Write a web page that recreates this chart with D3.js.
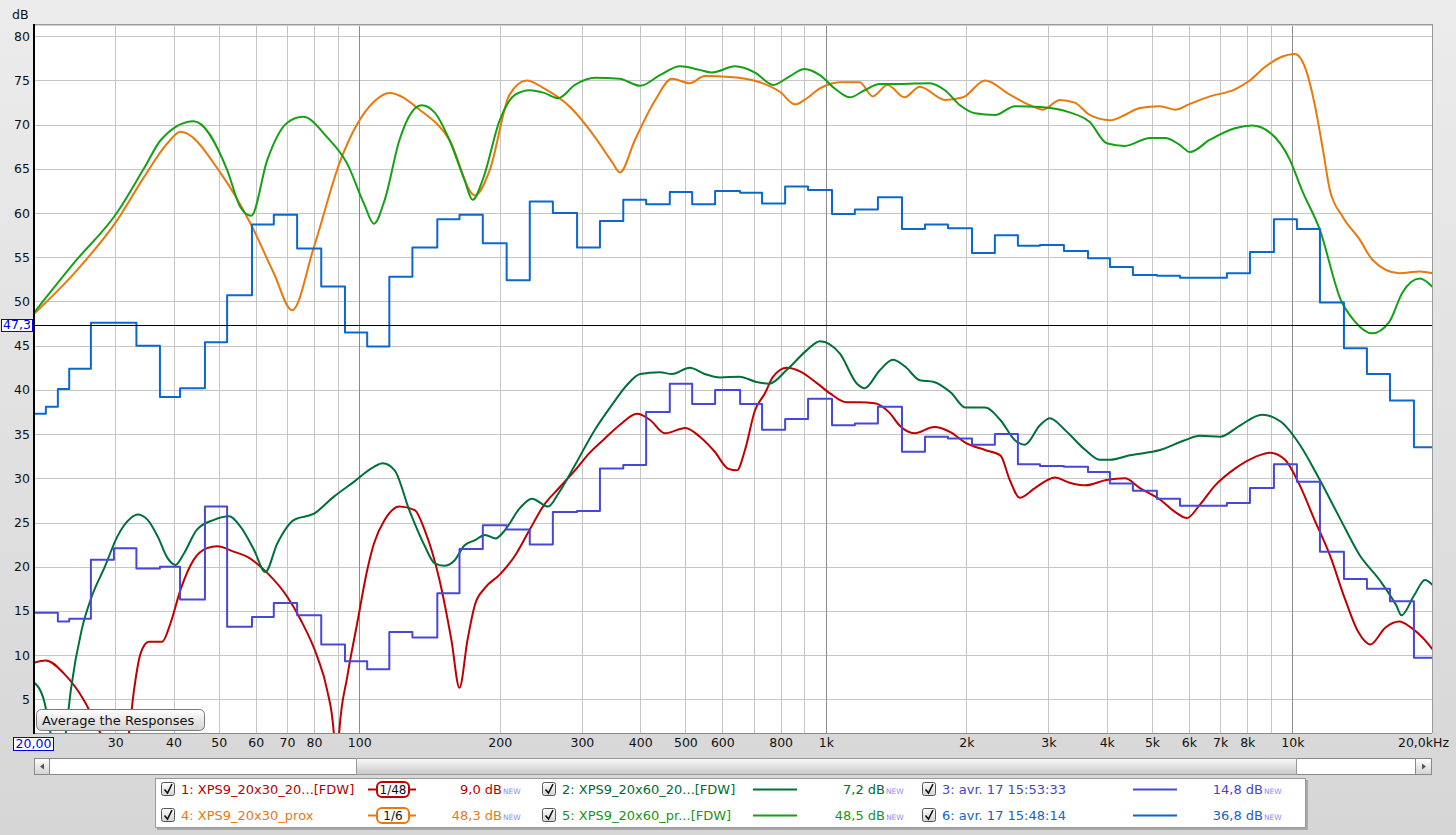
<!DOCTYPE html>
<html><head><meta charset="utf-8">
<script src="https://cdn.jsdelivr.net/npm/d3@7"></script>
<style>
html,body{margin:0;padding:0;background:#dadada;overflow:hidden;}
svg{display:block;font-family:"DejaVu Sans",sans-serif;}
</style></head><body>
<svg id="c" width="1456" height="835"></svg>
<script>
// ---------- DATA ----------
const yTicks = [5,10,15,20,25,30,35,40,45,50,55,60,65,70,75,80];
const xTickValues = [30,40,50,60,70,80,100,200,300,400,500,600,800,1000,2000,3000,4000,5000,6000,7000,8000,10000];
const xTickLabels = ["30","40","50","60","70","80","100","200","300","400","500","600","800","1k","2k","3k","4k","5k","6k","7k","8k","10k"];
const xGridMinor = [30,40,50,60,70,80,90,200,300,400,500,600,700,800,900,2000,3000,4000,5000,6000,7000,8000,9000];
const xGridMajor = [100,1000,10000];
const markerLevel = 47.3;

// 1/6-octave band edges shared by the two smoothed (stepped) responses
const stepEdgesHz = [20,21.3,22.6,23.9,26.6,29.8,33.3,37.4,41.3,46.7,52.1,58.9,65.6,73.6,82.9,93.2,104,116,130,147,164,184,207,232,260,293,328,368,412,463,517,579,655,730,818,916,1031,1154,1293,1456,1631,1827,2057,2303,2580,2877,3238,3646,4063,4551,5124,5741,6431,7237,8108,9127,10223,11454,12894,14443,16181,18214,20000];
const s3dB = [14.8,14.8,13.8,14.1,20.8,22.1,19.8,20.0,16.3,26.8,13.2,14.3,15.9,14.5,11.2,9.3,8.4,12.6,12.0,17.0,22.0,24.7,24.2,22.5,26.2,26.3,31.1,31.5,37.5,40.7,38.4,40.0,38.4,35.5,36.7,39.0,36.0,36.2,38.1,33.0,34.7,34.5,33.8,35.0,31.6,31.4,31.3,30.7,29.4,28.6,27.7,26.9,26.9,27.2,28.9,31.6,29.6,21.7,18.6,17.5,16.1,9.7];
const s6dB = [37.3,38.1,40.1,42.4,47.6,47.6,45.0,39.2,40.2,45.4,50.7,58.7,59.8,56.0,51.7,46.5,44.9,52.8,56.1,59.3,59.8,56.6,52.4,61.3,60.0,56.1,59.1,61.5,61.0,62.4,61.0,62.5,62.3,61.1,63.0,62.6,59.9,60.4,61.8,58.2,58.7,58.3,55.5,57.5,56.3,56.4,55.7,54.9,53.9,53.0,52.9,52.7,52.7,53.2,55.6,59.3,58.2,49.9,44.7,41.8,38.8,33.5];

const s1Hz = [20,21.3,23.3,25.7,27.8,29.8,31.0,32.1,32.9,34.0,35.4,37.8,39.4,41.4,44.2,47.2,49.6,53.8,57.6,63.5,70.1,74.9,81.3,85.3,88.2,89.4,90.6,94.3,99,104,107.5,113.4,122,131.5,138,148.6,157.6,164,170.6,177,186,200,216,232,249,268,290,312,336,361,394,420,452,500,537,578,617,645,671,705,740,771,826,880,955,1021,1108,1182,1272,1370,1437,1550,1706,1853,1994,2194,2366,2479,2604,2806,3098,3330,3600,3990,4374,4710,5200,5600,5940,6330,6830,7530,8310,8950,9640,10370,11150,12030,12970,13840,14690,15810,16940,17960,19230,20000];
const s1dB = [9.1,9.4,7.9,4.9,1.3,-2.0,-2.2,1.2,6.0,10.2,11.5,11.5,13.6,17.4,20.8,22.1,22.3,21.7,21.1,19.3,16.6,14.0,9.8,6.1,1.2,-6,1.3,7.6,13.6,19.6,22.6,25.3,26.8,26.4,24.2,18.5,11.7,6.3,11.7,15.7,17.6,19.1,21.3,24.2,27.0,28.9,30.9,32.9,34.5,36.0,37.3,36.6,35.1,35.7,34.7,33.0,31.1,30.9,33.2,37.7,39.6,41.5,42.5,42.1,40.8,39.6,38.6,38.6,38.5,37.4,36.0,35.1,35.8,35.2,34.0,33.2,32.6,29.8,27.8,28.9,30.1,29.5,29.2,29.8,30.0,28.9,27.6,26.2,25.5,27.0,29.2,31.1,32.4,32.9,32.1,29.2,25.3,21.3,16.3,12.6,11.2,13.1,13.8,13.1,11.7,10.6];

const s2Hz = [20,21.1,21.8,22.6,23.5,24.1,25.4,26.7,28.5,30.3,32.4,33.5,35.2,37.0,38.8,40.4,42.1,44.9,48.8,52.6,55.7,59.5,62.9,66.7,72.5,80,88.1,97.4,107.5,112.3,119.1,128,138,145,152,160,168,177,186,196,205,220.7,234.5,254,268,290,320,348,374,400,441,468,511,550,593,653,710,757,826,911,971,1072,1166,1211,1304,1392,1474,1590,1706,1853,1994,2194,2366,2543,2670,2877,3022,3250,3600,3870,4064,4480,5200,5880,6330,7000,7730,8600,9450,10370,11450,12690,13940,15370,16700,17120,18250,19230,20000];
const s2dB = [7.0,4.9,1.2,-1.9,1.2,6.1,12.8,16.6,20.0,23.4,25.5,25.9,25.3,23.4,21.0,20.2,21.5,24.2,25.3,25.7,24.5,21.9,19.4,22.6,25.3,26.0,27.9,29.6,31.3,31.7,30.9,26.4,22.4,20.4,20.1,20.7,22.4,23.0,23.6,23.2,24.1,26.6,27.7,26.8,28.4,31.5,35.5,38.3,40.5,41.8,42.0,41.8,42.5,41.8,41.4,41.5,40.9,40.7,42.3,44.5,45.5,44.1,40.7,40.2,42.2,43.4,42.7,41.1,40.9,39.7,38.0,38.0,36.6,34.3,33.8,36.0,36.8,35.5,33.2,32.1,32.1,32.6,33.2,34.3,34.8,34.7,36.0,37.2,36.4,33.8,29.8,25.3,21.3,18.5,15.6,14.5,16.8,18.5,17.9];

const s4Hz = [20,24.6,30.3,34.6,38.8,41.4,50.5,58.5,65.6,71.8,80,91.2,107.5,116,134.7,156,177,190.5,210,228.6,249,283,320,348,362,390,431,468,511,550,623,722,798,859,900,971,1072,1182,1260,1356,1474,1590,1800,1968,2194,2479,2738,2920,3175,3416,3677,4064,4374,4710,5200,5600,6000,6656,7530,8100,8720,9410,10120,10690,11170,11630,12030,12810,13940,14850,16940,18750,20000];
const s4dB = [48.5,53.3,59.2,64.1,67.9,69.2,64.5,58.8,53.2,49.0,56.2,66.0,72.6,73.6,71.7,68.3,62.0,64.9,73.4,75.0,74.1,72.0,68.6,65.8,64.6,68.3,72.8,75.2,74.7,75.5,75.4,74.8,73.7,72.3,72.8,74.1,74.8,74.8,73.2,74.5,73.1,74.3,72.8,73.1,75.0,73.4,72.2,71.7,72.8,72.5,71.1,70.5,71.1,71.9,72.1,71.7,72.3,73.2,74.0,75.0,76.5,77.6,78.0,76.2,72.2,67.1,62.6,59.6,57.0,54.7,53.2,53.4,53.2];

const s5Hz = [20,24.6,30.3,34.6,37.6,44.2,52.1,55.6,58.7,63.5,70,75.8,85.3,94.2,102.3,107.5,113.4,122,129.5,136,145,156,168,175,184,200,216,232,249,267,290,320,361,400,441,487,537,569,639,705,771,838,900,971,1045,1126,1211,1304,1437,1667,1800,1939,2088,2304,2543,2877,3330,3677,4000,4374,4951,5330,5740,6030,6656,7530,8190,8950,9880,10480,11450,12690,13530,14820,16130,17200,18750,20000];
const s5dB = [48.6,54.5,60.1,65.1,68.3,70.4,64.9,60.7,59.7,66.0,70.2,70.9,68.6,65.6,61.1,58.8,61.5,68.3,71.4,72.2,71.4,68.3,63.8,61.5,63.8,70.5,73.4,73.9,73.6,73.0,74.5,75.3,75.2,74.4,75.6,76.6,76.2,75.9,76.6,75.9,74.5,75.5,76.3,75.6,74.1,73.1,73.9,74.6,74.6,74.7,73.9,72.2,71.3,71.1,72.1,72.0,71.4,70.3,67.9,67.6,68.5,68.5,67.7,66.9,68.3,69.6,69.9,69.1,66.0,62.6,58.1,50.2,47.9,46.4,47.7,51.0,52.6,51.6];

const legendNames = ["1: XPS9_20x30_20...[FDW]","2: XPS9_20x60_20...[FDW]","3: avr. 17 15:53:33","4: XPS9_20x30_prox","5: XPS9_20x60_pr...[FDW]","6: avr. 17 15:48:14"];
const legendValues = ["9,0 dB","7,2 dB","14,8 dB","48,3 dB","48,5 dB","36,8 dB"];
const legendSmoothing = ["1/48","","","1/6","",""];
const seriesColors = ["#c00000","#00703a","#4848d8","#ea780c","#15a015","#0a68d0"];
const legendTextColors = ["#b80000","#006b35","#4545cc","#e87a10","#189418","#1464c8"];

// ---------- SETUP ----------
const P = {l:34, r:1432, t:24, b:733};
const x = d3.scaleLog().domain([20,20000]).range([33.1,1432.9]);
const y = d3.scaleLinear().domain([80,5]).range([36.3,699.3]);
const svg = d3.select('#c');
const defs = svg.append('defs');

const bg = defs.append('linearGradient').attr('id','bg').attr('x1',0).attr('y1',0).attr('x2',0).attr('y2',1);
bg.append('stop').attr('offset','0%').attr('stop-color','#ececec');
bg.append('stop').attr('offset','100%').attr('stop-color','#d6d6d6');
const btn = defs.append('linearGradient').attr('id','btn').attr('x1',0).attr('y1',0).attr('x2',0).attr('y2',1);
btn.append('stop').attr('offset','0%').attr('stop-color','#ffffff');
btn.append('stop').attr('offset','100%').attr('stop-color','#d2d2d2');
const thumb = defs.append('linearGradient').attr('id','thumb').attr('x1',0).attr('y1',0).attr('x2',0).attr('y2',1);
thumb.append('stop').attr('offset','0%').attr('stop-color','#fafafa');
thumb.append('stop').attr('offset','100%').attr('stop-color','#c8c8c8');
defs.append('clipPath').attr('id','clip').append('rect')
  .attr('x',P.l).attr('y',P.t).attr('width',P.r-P.l).attr('height',P.b-P.t);

svg.append('rect').attr('width',1456).attr('height',835).attr('fill','url(#bg)');
svg.append('rect').attr('x',P.l).attr('y',P.t).attr('width',P.r-P.l).attr('height',P.b-P.t).attr('fill','#fff');

// grid
const grid = svg.append('g').attr('clip-path','url(#clip)');
grid.selectAll('.hg').data(yTicks).enter().append('line')
  .attr('x1',P.l).attr('x2',P.r)
  .attr('y1',d=>Math.round(y(d))+0.5).attr('y2',d=>Math.round(y(d))+0.5)
  .attr('stroke','#c6c6c6').attr('stroke-width',1);
grid.selectAll('.vg').data(xGridMinor).enter().append('line')
  .attr('x1',d=>Math.round(x(d))+0.5).attr('x2',d=>Math.round(x(d))+0.5)
  .attr('y1',P.t).attr('y2',P.b)
  .attr('stroke','#c6c6c6').attr('stroke-width',1);
grid.selectAll('.vM').data(xGridMajor).enter().append('line')
  .attr('x1',d=>Math.round(x(d))+0.5).attr('x2',d=>Math.round(x(d))+0.5)
  .attr('y1',P.t).attr('y2',P.b)
  .attr('stroke','#8c8c8c').attr('stroke-width',1);

// series
const plotG = svg.append('g').attr('clip-path','url(#clip)');
const smooth = d3.line().x(d=>x(d[0])).y(d=>y(d[1])).curve(d3.curveMonotoneX);
const stepped = d3.line().x(d=>x(d[0])).y(d=>y(d[1])).curve(d3.curveStepAfter);
function stepData(vals){ const a = vals.map((v,i)=>[stepEdgesHz[i],v]); a.push([stepEdgesHz[stepEdgesHz.length-1], vals[vals.length-1]]); return a; }
function zipData(hz,db){ return hz.map((f,i)=>[f,db[i]]); }

const seriesDraw = [
  {d:zipData(s4Hz,s4dB), gen:smooth, c:seriesColors[3]},
  {d:zipData(s5Hz,s5dB), gen:smooth, c:seriesColors[4]},
  {d:zipData(s1Hz,s1dB), gen:smooth, c:seriesColors[0]},
  {d:zipData(s2Hz,s2dB), gen:smooth, c:seriesColors[1]},
  {d:stepData(s3dB), gen:stepped, c:seriesColors[2]},
  {d:stepData(s6dB), gen:stepped, c:seriesColors[5]}
];
seriesDraw.forEach(s=>{
  plotG.append('path').datum(s.d).attr('d',s.gen).attr('fill','none')
    .attr('stroke',s.c).attr('stroke-width',2).attr('stroke-linejoin','round');
});

// marker line
const my = Math.round(y(markerLevel))+0.5;
svg.append('line').attr('x1',P.l).attr('x2',P.r).attr('y1',my).attr('y2',my).attr('stroke','#000').attr('stroke-width',1);

// plot border
svg.append('line').attr('x1',P.l).attr('x2',P.r).attr('y1',P.t+0.5).attr('y2',P.t+0.5).attr('stroke','#9a9a9a').attr('stroke-width',1);
svg.append('line').attr('x1',P.l).attr('x2',P.r).attr('y1',P.t+1.5).attr('y2',P.t+1.5).attr('stroke','#d0d0d0').attr('stroke-width',1);
svg.append('line').attr('x1',P.l).attr('x2',P.r).attr('y1',P.b+0.5).attr('y2',P.b+0.5).attr('stroke','#8a8a8a').attr('stroke-width',1);
svg.append('line').attr('x1',P.r+0.5).attr('x2',P.r+0.5).attr('y1',P.t).attr('y2',P.b).attr('stroke','#9a9a9a').attr('stroke-width',1);
svg.append('line').attr('x1',P.l).attr('x2',P.l).attr('y1',P.t).attr('y2',P.b+1).attr('stroke','#000').attr('stroke-width',2);

// axes
const yAxis = svg.append('g').attr('transform',`translate(${P.l-4},0)`)
  .call(d3.axisLeft(y).tickValues(yTicks).tickSize(0).tickPadding(0).tickFormat(d=>String(d)));
yAxis.select('.domain').remove();
yAxis.selectAll('text').attr('font-size',12.5).attr('font-family','"DejaVu Sans",sans-serif').attr('fill','#111');
svg.append('text').attr('x',12).attr('y',19).attr('font-size',12.5).attr('fill','#111').text('dB');

const xAxis = svg.append('g').attr('transform',`translate(0,${P.b})`)
  .call(d3.axisBottom(x).tickValues(xTickValues).tickSize(0).tickPadding(5).tickFormat((d,i)=>xTickLabels[i]));
xAxis.select('.domain').remove();
xAxis.selectAll('text').attr('font-size',12.5).attr('font-family','"DejaVu Sans",sans-serif').attr('fill','#111');
svg.append('text').attr('x',1449).attr('y',747).attr('text-anchor','end').attr('font-size',12.5).attr('fill','#111').text('20,0kHz');

// boxed value labels
function boxLabel(bx,by,bw,bh,t){
  svg.append('rect').attr('x',bx+0.5).attr('y',by+0.5).attr('width',bw).attr('height',bh).attr('fill','#fff').attr('stroke','#0000ee');
  svg.append('text').attr('x',bx+bw/2+0.5).attr('y',by+bh-2.5).attr('text-anchor','middle').attr('font-size',12.5).attr('fill','#0000ee').text(t);
}
boxLabel(1, my-6.5, 31, 12, '47,3');
boxLabel(13, 737, 40, 13, '20,00');

// button
svg.append('rect').attr('x',36.5).attr('y',709.5).attr('width',168).attr('height',21).attr('rx',5)
  .attr('fill','url(#btn)').attr('stroke','#7a7a7a');
svg.append('text').attr('x',42).attr('y',724.5).attr('font-size',13).attr('fill','#111').text('Average the Responses');

// scrollbar
const sbY = 758, sbH = 16;
svg.append('rect').attr('x',34.5).attr('y',sbY+0.5).attr('width',1397).attr('height',sbH).attr('fill','#fff').attr('stroke','#8a8a8a');
svg.append('rect').attr('x',34.5).attr('y',sbY+0.5).attr('width',15).attr('height',sbH).attr('fill','url(#btn)').attr('stroke','#8a8a8a');
svg.append('rect').attr('x',1415.5).attr('y',sbY+0.5).attr('width',16).attr('height',sbH).attr('fill','url(#btn)').attr('stroke','#8a8a8a');
svg.append('path').attr('d',`M40,${sbY+8.5} L44,${sbY+5.5} L44,${sbY+11.5} Z`).attr('fill','#555');
svg.append('path').attr('d',`M1426,${sbY+8.5} L1422,${sbY+5.5} L1422,${sbY+11.5} Z`).attr('fill','#555');
svg.append('rect').attr('x',356.5).attr('y',sbY+0.5).attr('width',940).attr('height',sbH).attr('fill','url(#thumb)').attr('stroke','#9a9a9a');

// legend
svg.append('rect').attr('x',157).attr('y',780).attr('width',1151).attr('height',50).attr('fill','#a8a8a8');
svg.append('rect').attr('x',155.5).attr('y',778.5).attr('width',1150).attr('height',49).attr('fill','#fff').attr('stroke','#9a9a9a');
const colX = [161,542,922];
const lineX = [[368,416],[753,797],[1133,1177]];
const valEnd = [502,885,1263];
const rowY = [789,815];
legendNames.forEach((name,i)=>{
  const col = i%3, row = Math.floor(i/3);
  const cy = rowY[row];
  const cx = colX[col];
  const g = svg.append('g');
  g.append('rect').attr('x',cx+0.5).attr('y',cy-6.5).attr('width',13).attr('height',13).attr('rx',2)
    .attr('fill','url(#btn)').attr('stroke','#555');
  g.append('path').attr('d',`M${cx+3.5},${cy+0.5} L${cx+6.5},${cy+4} L${cx+11},${cy-5}`)
    .attr('fill','none').attr('stroke','#111').attr('stroke-width',1.6);
  g.append('text').attr('x',cx+20).attr('y',cy+5).attr('font-size',13).attr('fill',legendTextColors[i]).text(name);
  const [lx1,lx2] = lineX[col];
  g.append('line').attr('x1',lx1).attr('x2',lx2).attr('y1',cy+0.5).attr('y2',cy+0.5)
    .attr('stroke',seriesColors[i]).attr('stroke-width',2);
  if (legendSmoothing[i]) {
    g.append('rect').attr('x',377).attr('y',cy-7).attr('width',32).attr('height',15).attr('rx',5)
      .attr('fill','#fff').attr('stroke',seriesColors[i]).attr('stroke-width',2);
    g.append('text').attr('x',393).attr('y',cy+5).attr('text-anchor','middle').attr('font-size',12).attr('fill','#111').text(legendSmoothing[i]);
  }
  g.append('text').attr('x',valEnd[col]).attr('y',cy+5).attr('text-anchor','end').attr('font-size',13)
    .attr('fill',legendTextColors[i]).text(legendValues[i]);
  g.append('text').attr('x',valEnd[col]+1).attr('y',cy+5).attr('font-size',7.5).attr('fill','#8d8dff').text('NEW');
});
</script>
</body></html>
